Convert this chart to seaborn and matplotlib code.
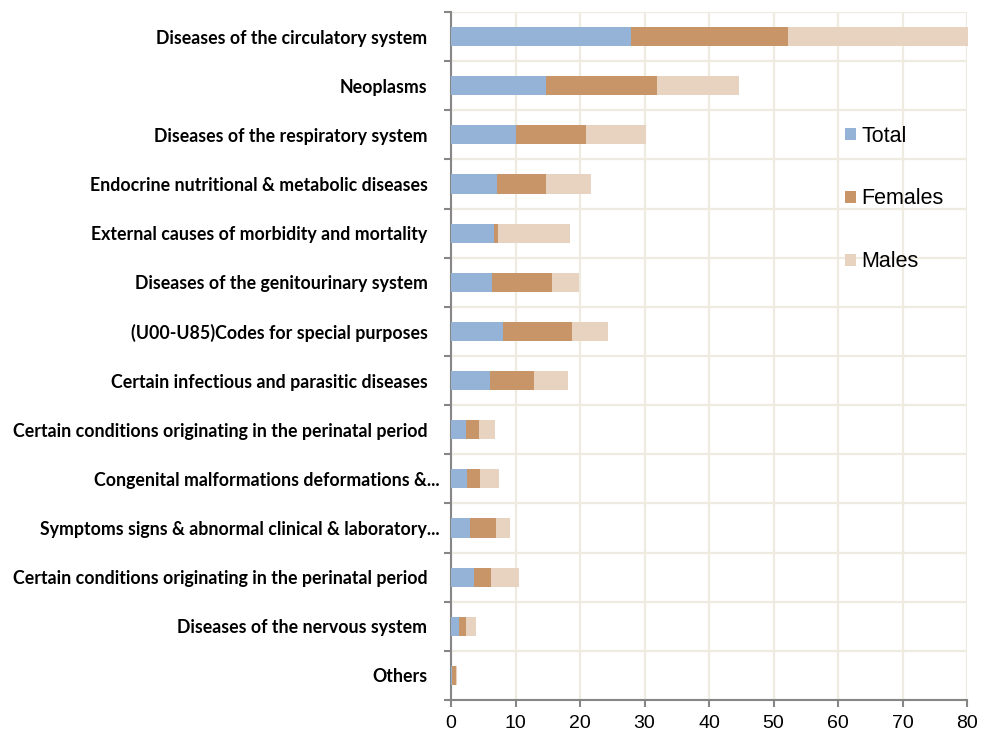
import numpy as np
import pandas as pd
import matplotlib
matplotlib.use("Agg")
import matplotlib.pyplot as plt
import seaborn as sns
from matplotlib.patches import Patch
from matplotlib.transforms import ScaledTranslation

categories = [
    "Diseases of the circulatory system",
    "Neoplasms",
    "Diseases of the respiratory system",
    "Endocrine nutritional & metabolic diseases",
    "External causes of morbidity and mortality",
    "Diseases of the genitourinary system",
    "(U00-U85)Codes for special purposes",
    "Certain infectious and parasitic diseases",
    "Certain conditions originating in the perinatal period",
    "Congenital malformations deformations &...",
    "Symptoms signs & abnormal clinical & laboratory...",
    "Certain conditions originating in the perinatal period",
    "Diseases of the nervous system",
    "Others",
]
total   = [27.9, 14.8, 10.1, 7.2, 6.6, 6.4, 8.0, 6.0, 2.3, 2.5, 3.0, 3.6, 1.3, 0.15]
females = [24.4, 17.1, 10.8, 7.5, 0.7, 9.2, 10.7, 6.9, 2.0, 2.0, 4.0, 2.6, 1.0, 0.65]
males   = [27.9, 12.8, 9.4, 7.0, 11.2, 4.2, 5.7, 5.2, 2.5, 2.9, 2.2, 4.3, 1.6, 0.2]

series_names = ["Total", "Females", "Males"]
colors = {"Total": "#95B3D7", "Females": "#C89568", "Males": "#E8D3C0"}
grid_col = "#EEEBE1"

df = pd.DataFrame({"row": np.arange(len(categories)),
                   "Total": total, "Females": females, "Males": males})
df["cum_total"] = df["Total"]
df["cum_females"] = df["Total"] + df["Females"]
df["cum_males"] = df["cum_females"] + df["Males"]

sns.set_style("white")

fig = plt.figure(figsize=(9.81, 7.37), dpi=100)
ax = fig.add_axes([451 / 981, 1 - 700 / 737, 516 / 981, 688 / 737])

# stacked: draw the longest first, then overlay
for col, name in [("cum_males", "Males"), ("cum_females", "Females"), ("cum_total", "Total")]:
    sns.barplot(data=df, x=col, y="row", orient="h", color=colors[name],
                width=0.39, saturation=1, linewidth=0, edgecolor="none",
                ax=ax, zorder=3)

ax.set_xlim(0, 80)
ax.set_ylim(len(categories) - 0.5, -0.5)
ax.set_xticks(np.arange(0, 81, 10))
ax.set_yticks(np.arange(len(categories)))
ax.set_yticklabels(categories)
ax.set_yticks(np.arange(-0.5, len(categories), 1), minor=True)
ax.set_xlabel("")
ax.set_ylabel("")

for b in ax.patches:
    b.set_clip_on(False)

ax.grid(False)
ax.xaxis.grid(True, which="major", color=grid_col, lw=1.6, zorder=0)
ax.yaxis.grid(True, which="minor", color=grid_col, lw=1.6, zorder=0)
ax.set_axisbelow(True)

for s in ["top", "right"]:
    ax.spines[s].set_visible(False)
for s in ["left", "bottom"]:
    ax.spines[s].set_color("#868686")
    ax.spines[s].set_linewidth(1.5)

ax.tick_params(axis="y", which="major", length=0, pad=17, labelcolor="black")
ax.tick_params(axis="y", which="minor", length=5, width=1.5, color="#868686", left=True)
ax.tick_params(axis="x", which="major", length=5, width=1.5, color="#868686",
               bottom=True, labelsize=14, pad=6, labelcolor="black")

for lab in ax.get_xticklabels():
    lab.set_family("Liberation Sans")
shift = ScaledTranslation(12 / 100, 0, fig.dpi_scale_trans)
for lab in ax.get_yticklabels():
    lab.set_family("Lato")
    lab.set_fontweight("bold")
    lab.set_fontsize(12.8)
    if lab.get_text().endswith("..."):
        lab.set_transform(lab.get_transform() + shift)

handles = [Patch(facecolor=colors[n], edgecolor="none", label=n) for n in series_names]
leg = ax.legend(handles=handles, loc="upper left", bbox_to_anchor=(0.763, 0.835),
                frameon=False, prop={"family": "Liberation Sans", "size": 15.5},
                handlelength=0.52, handleheight=0.52, handletextpad=0.25,
                labelspacing=1.95, borderpad=0, borderaxespad=0)
for t in leg.get_texts():
    t.set_color("black")

plt.savefig("out.png", dpi=100)
plt.close()
